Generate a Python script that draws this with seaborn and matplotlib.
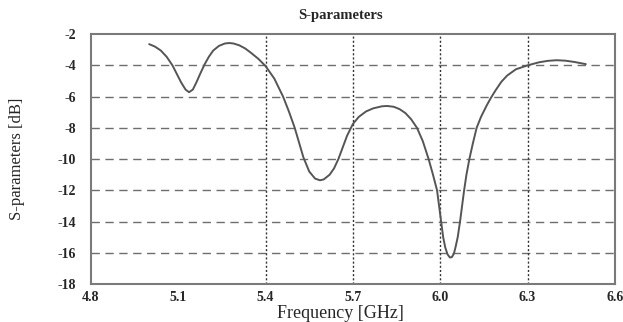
import matplotlib
matplotlib.use("Agg")
import matplotlib.pyplot as plt
import seaborn as sns
import pandas as pd

# values
freq_ghz = [5.00, 5.02, 5.04, 5.06, 5.08, 5.095, 5.11, 5.125, 5.137, 5.15,
            5.162, 5.175, 5.19, 5.205, 5.22, 5.24, 5.26, 5.275, 5.29, 5.31,
            5.33, 5.35, 5.375, 5.40, 5.43, 5.46, 5.48, 5.50, 5.515, 5.53,
            5.55, 5.57, 5.587, 5.60, 5.62, 5.635, 5.65, 5.665, 5.68, 5.70,
            5.72, 5.745, 5.77, 5.80, 5.817, 5.84, 5.86, 5.88, 5.90, 5.92,
            5.94, 5.96, 5.975, 5.989, 5.996, 6.003, 6.010, 6.017, 6.025, 6.033,
            6.040, 6.047, 6.053, 6.06, 6.068, 6.075, 6.082, 6.09, 6.10, 6.112,
            6.125, 6.14, 6.16, 6.175, 6.19, 6.21, 6.23, 6.26, 6.30, 6.34,
            6.37, 6.40, 6.43, 6.46, 6.50]
s_db = [-2.64, -2.80, -3.05, -3.45, -4.00, -4.55, -5.10, -5.55, -5.72, -5.55,
        -5.10, -4.55, -3.95, -3.45, -3.05, -2.75, -2.60, -2.57, -2.60, -2.72,
        -2.92, -3.20, -3.58, -4.05, -4.85, -6.00, -6.95, -8.00, -8.95, -9.90,
        -10.80, -11.25, -11.36, -11.30, -11.00, -10.60, -10.00, -9.25, -8.50, -7.75,
        -7.30, -6.95, -6.75, -6.62, -6.60, -6.65, -6.80, -7.05, -7.45, -8.00,
        -8.85, -10.00, -11.00, -12.00, -13.00, -14.00, -15.00, -15.65, -16.10, -16.30,
        -16.28, -16.05, -15.60, -15.00, -14.00, -13.00, -12.00, -11.00, -10.00, -9.00,
        -8.00, -7.30, -6.55, -6.05, -5.60, -5.05, -4.65, -4.25, -4.00, -3.80,
        -3.71, -3.67, -3.70, -3.78, -3.92]

x_ticks = [4.8, 5.1, 5.4, 5.7, 6.0, 6.3, 6.6]
x_grid = [5.4, 5.7, 6.0, 6.3]
y_ticks = [-2, -4, -6, -8, -10, -12, -14, -16, -18]
y_grid = [-4, -6, -8, -10, -12, -14, -16]

df = pd.DataFrame({"freq": freq_ghz, "s": s_db})

sns.set_style("white")
plt.rcParams["font.family"] = ["Liberation Serif", "DejaVu Serif"]
plt.rcParams["axes.unicode_minus"] = False

fig = plt.figure(figsize=(6.23, 3.22), dpi=100)
ax = fig.add_axes([0.146, 0.118, 0.841, 0.776])

for y in y_grid:
    ax.axhline(y, color="#6e6e6e", lw=1.0, ls=(0, (6, 4)), zorder=1)
for x in x_grid:
    ax.axvline(x, color="#333333", lw=1.0, ls=(0, (1.5, 1.5)), zorder=1)

sns.lineplot(data=df, x="freq", y="s", ax=ax, color="#555555", lw=1.4, zorder=3)

ax.set_xlim(4.8, 6.6)
ax.set_ylim(-18, -2)
ax.set_xticks(x_ticks)
ax.set_xticklabels([f"{v:.1f}" for v in x_ticks], fontsize=10, fontweight="bold")
ax.set_yticks(y_ticks)
ax.set_yticklabels([str(v) for v in y_ticks], fontsize=10, fontweight="bold")
ax.tick_params(axis="x", length=0, pad=5)
ax.tick_params(axis="y", length=0, pad=11)

for sp in ax.spines.values():
    sp.set_color("#7a7a7a")
    sp.set_linewidth(1.5)

ax.set_title("S-parameters", fontsize=10.5, fontweight="bold", x=0.477, pad=11)
ax.set_xlabel("Frequency [GHz]", fontsize=13)
ax.xaxis.set_label_coords(0.477, -0.085)
ax.set_ylabel("S-parameters [dB]", fontsize=12)
ax.yaxis.set_label_coords(-0.125, 0.5)

fig.savefig("out.png", dpi=100, facecolor="white")
